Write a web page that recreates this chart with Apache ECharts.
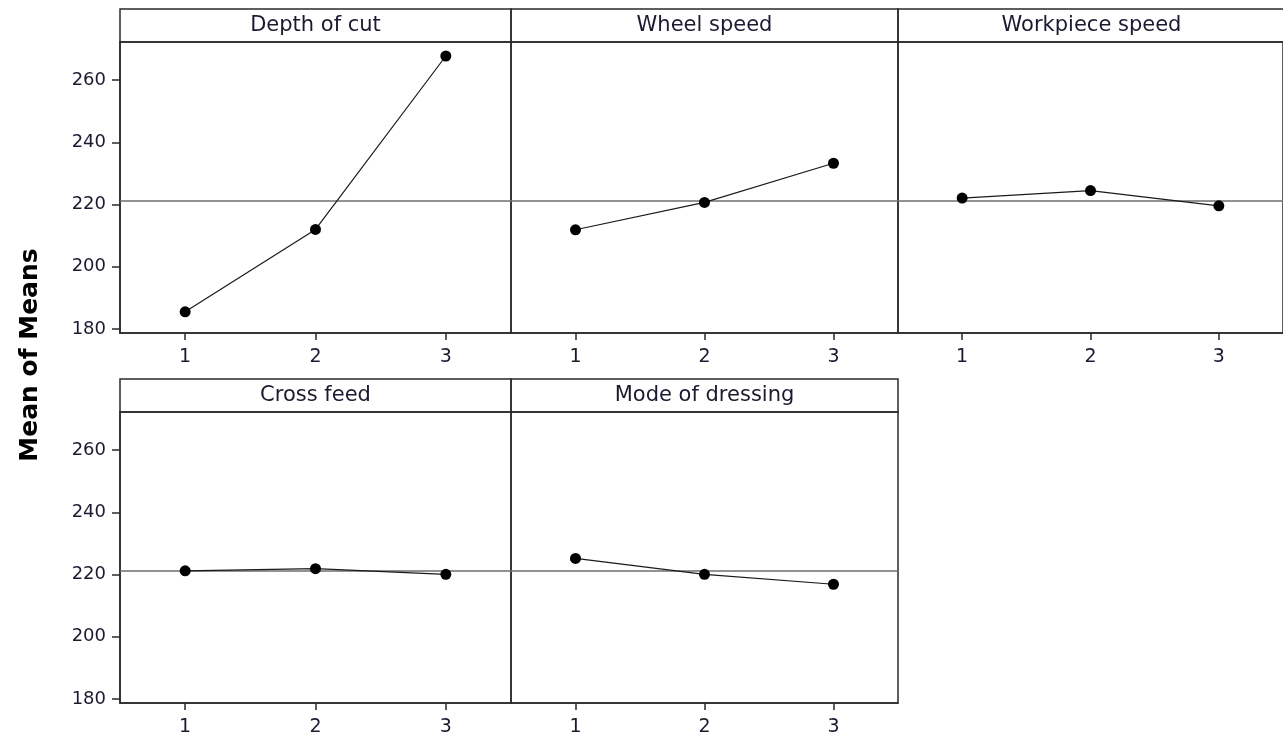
<!DOCTYPE html>
<html>
<head>
<meta charset="utf-8">
<script src="https://cdn.jsdelivr.net/npm/echarts@6/dist/echarts.min.js"></script>
<style>
html,body{margin:0;padding:0;background:#fff;}
#chart{width:1283px;height:742px;}
</style>
</head>
<body>
<div id="chart"></div>
<script>
// ---- data ----
const categories = ['1', '2', '3'];
const panelTitles = ['Depth of cut', 'Wheel speed', 'Workpiece speed', 'Cross feed', 'Mode of dressing'];
const depthOfCut = [185.5, 212.0, 267.8];
const wheelSpeed = [211.9, 220.7, 233.3];
const workpieceSpeed = [222.1, 224.5, 219.6];
const crossFeed = [221.2, 221.9, 220.1];
const modeOfDressing = [225.2, 220.1, 216.9];
const grandMean = 221.2;
const yTicks = [180, 200, 220, 240, 260];
const yAxisTitle = 'Mean of Means';

// ---- layout ----
const seriesData = [depthOfCut, wheelSpeed, workpieceSpeed, crossFeed, modeOfDressing];
const colLefts = [120, 511, 898];
const colWidths = [391, 387, 387];
const rowTops = [42, 412];
const plotH = 291;
const headerH = 33;
const yMin = 178.7, yMax = 272.3;
const textColor = '#1a1a30';
const frameColor = '#2a2a2a';
const FONT = '"DejaVu Sans", Verdana, sans-serif';

const grids = [], xAxes = [], yAxes = [], series = [], graphics = [];
seriesData.forEach((vals, i) => {
  const row = Math.floor(i / 3), col = i % 3;
  const left = colLefts[col], top = rowTops[row], w = colWidths[col];
  grids.push({
    left: left, top: top, width: w, height: plotH,
    show: true, borderColor: frameColor, borderWidth: 1.5, backgroundColor: 'transparent'
  });
  xAxes.push({
    type: 'category', gridIndex: i, data: categories, boundaryGap: true,
    axisLine: {show: true, lineStyle: {color: frameColor, width: 1.5}},
    axisTick: {show: true, alignWithLabel: true, length: 7, lineStyle: {color: frameColor, width: 1.5}},
    axisLabel: {show: true, color: textColor, fontSize: 19, fontFamily: FONT, margin: 15},
    splitLine: {show: false}
  });
  yAxes.push({
    type: 'value', gridIndex: i, min: yMin, max: yMax,
    show: col === 0,
    axisLine: {show: true, lineStyle: {color: frameColor, width: 1.5}},
    axisTick: {show: true, length: 8, customValues: yTicks, lineStyle: {color: frameColor, width: 1.5}},
    axisLabel: {show: true, customValues: yTicks, color: textColor, fontSize: 18, fontFamily: FONT, margin: 14},
    splitLine: {show: false}
  });
  series.push({
    type: 'line', xAxisIndex: i, yAxisIndex: i, data: vals,
    symbol: 'circle', symbolSize: 11,
    itemStyle: {color: '#000'},
    lineStyle: {color: '#1a1a1a', width: 1.2},
    z: 3,
    markLine: {
      silent: true, symbol: 'none', label: {show: false},
      lineStyle: {color: '#6e6e6e', width: 1.5, type: 'solid'},
      data: [{yAxis: grandMean}],
      z: 2
    }
  });
  graphics.push({
    type: 'rect', shape: {x: left, y: top - headerH, width: w, height: headerH},
    style: {fill: 'none', stroke: frameColor, lineWidth: 1.5}
  });
  graphics.push({
    type: 'text', x: left + w / 2, y: top - headerH / 2,
    style: {text: panelTitles[i], fill: textColor, font: '21px ' + FONT,
            align: 'center', verticalAlign: 'middle', textAlign: 'center', textVerticalAlign: 'middle'}
  });
});
graphics.push({
  type: 'text', x: 30, y: 355, rotation: Math.PI / 2,
  style: {text: yAxisTitle, fill: '#000', font: 'bold 25px ' + FONT,
          align: 'center', verticalAlign: 'middle', textAlign: 'center', textVerticalAlign: 'middle'}
});

const chart = echarts.init(document.getElementById('chart'), null, {renderer: 'canvas'});
chart.setOption({
  animation: false,
  backgroundColor: '#fff',
  grid: grids, xAxis: xAxes, yAxis: yAxes, series: series,
  graphic: {elements: graphics}
});
</script>
</body>
</html>
